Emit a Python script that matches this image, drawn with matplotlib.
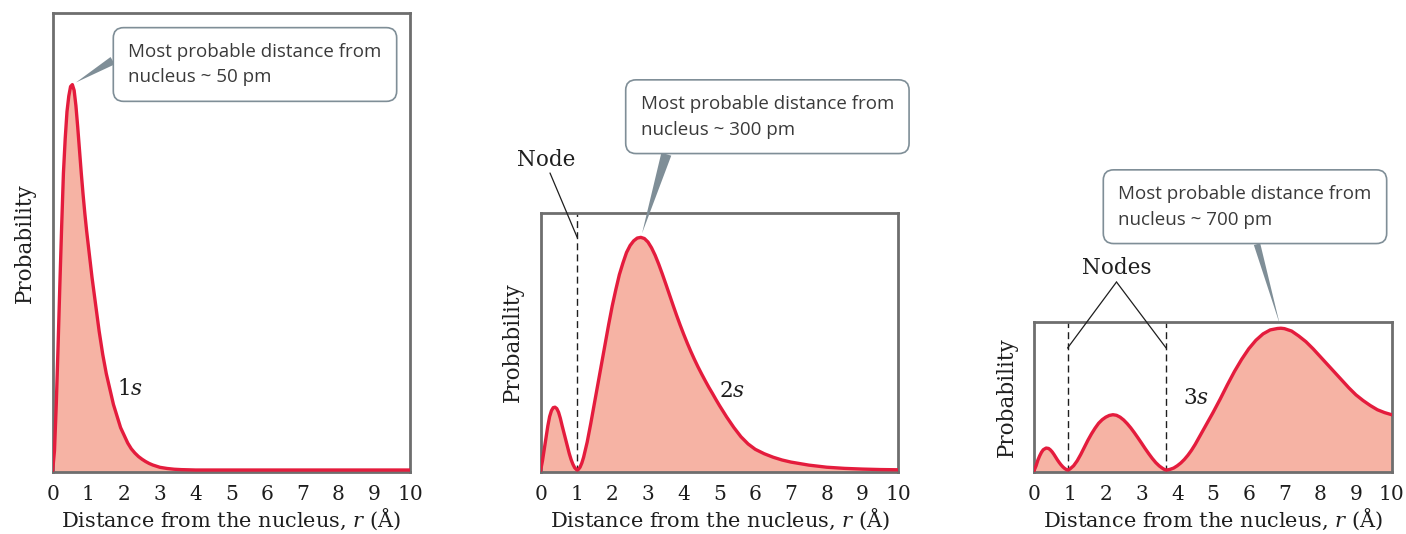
import matplotlib
matplotlib.use("Agg")
from matplotlib import pyplot as plt

plt.rcParams['font.family'] = 'DejaVu Serif'
plt.rcParams['mathtext.fontset'] = 'dejavuserif'

# radial probability (peak of each curve = 1)
r_1s = [0, 0.05, 0.1, 0.15, 0.2, 0.25, 0.3, 0.35, 0.4, 0.45, 0.5, 0.55, 0.6, 0.65, 0.7, 0.75,
        0.8, 0.85, 0.9, 0.95, 1.0, 1.1, 1.2, 1.3, 1.4, 1.5, 1.6, 1.7, 1.8, 1.9, 2.0, 2.1,
        2.2, 2.3, 2.4, 2.5, 2.6, 2.7, 2.8, 2.9, 3.0, 3.2, 3.4, 3.6, 3.8, 4.0, 5, 6, 7, 8, 9, 10]
p_1s = [0, 0.05, 0.17, 0.32, 0.48, 0.63, 0.77, 0.86, 0.93, 0.97, 0.995, 1.0, 0.985, 0.945, 0.89, 0.83,
        0.77, 0.715, 0.665, 0.62, 0.58, 0.50, 0.43, 0.36, 0.30, 0.25, 0.21, 0.17, 0.14, 0.11, 0.09, 0.07,
        0.055, 0.044, 0.035, 0.028, 0.022, 0.017, 0.013, 0.01, 0.007, 0.004, 0.002, 0.001, 0.0005, 0,
        0, 0, 0, 0, 0, 0]

r_2s = [0, 0.05, 0.1, 0.15, 0.2, 0.25, 0.3, 0.35, 0.4, 0.45, 0.5, 0.55, 0.6, 0.65, 0.7, 0.75,
        0.8, 0.85, 0.9, 0.95, 1.0, 1.02, 1.05, 1.1, 1.15, 1.2, 1.3, 1.4, 1.5, 1.6, 1.7, 1.8,
        1.9, 2.0, 2.1, 2.2, 2.3, 2.4, 2.5, 2.6, 2.7, 2.8, 2.9, 3.0, 3.1, 3.2, 3.3, 3.4,
        3.5, 3.6, 3.7, 3.8, 3.9, 4.0, 4.1, 4.2, 4.3, 4.4, 4.5, 4.6, 4.7, 4.8, 4.9, 5.0,
        5.2, 5.4, 5.6, 5.8, 6.0, 6.25, 6.5, 6.75, 7.0, 7.5, 8.0, 8.5, 9.0, 9.5, 10.0]
p_2s = [0, 0.04, 0.09, 0.14, 0.19, 0.23, 0.255, 0.268, 0.27, 0.264, 0.248, 0.222, 0.19, 0.16, 0.13, 0.10,
        0.07, 0.045, 0.025, 0.01, 0.002, 0, 0.002, 0.012, 0.03, 0.055, 0.12, 0.20, 0.285, 0.37, 0.455, 0.54,
        0.625, 0.705, 0.775, 0.84, 0.89, 0.935, 0.965, 0.985, 0.997, 1.0, 0.995, 0.98, 0.955, 0.923, 0.885, 0.843,
        0.799, 0.754, 0.709, 0.665, 0.623, 0.583, 0.545, 0.509, 0.475, 0.443, 0.413, 0.384, 0.356, 0.33, 0.303, 0.277,
        0.228, 0.183, 0.143, 0.112, 0.089, 0.07, 0.055, 0.043, 0.034, 0.021, 0.012, 0.007, 0.004, 0.002, 0.001]

r_3s = [0, 0.05, 0.1, 0.15, 0.2, 0.25, 0.33, 0.4, 0.45, 0.5, 0.55, 0.6, 0.65, 0.7, 0.75, 0.8,
        0.85, 0.9, 0.93, 0.97, 1.0, 1.1, 1.2, 1.3, 1.4, 1.5, 1.6, 1.7, 1.8, 1.9, 2.0, 2.1,
        2.2, 2.3, 2.4, 2.5, 2.6, 2.7, 2.8, 2.9, 3.0, 3.1, 3.2, 3.3, 3.4, 3.5, 3.6, 3.65,
        3.69, 3.75, 3.8, 3.9, 4.0, 4.1, 4.2, 4.3, 4.4, 4.5, 4.6, 4.7, 4.8, 4.9, 5.0, 5.2,
        5.4, 5.6, 5.8, 6.0, 6.2, 6.4, 6.6, 6.8, 6.9, 7.0, 7.2, 7.4, 7.6, 7.8, 8.0, 8.2,
        8.4, 8.6, 8.8, 9.0, 9.2, 9.4, 9.6, 9.8, 10.0]
p_3s = [0, 0.03, 0.07, 0.10, 0.125, 0.143, 0.155, 0.152, 0.142, 0.128, 0.11, 0.09, 0.07, 0.052, 0.036, 0.022,
        0.011, 0.003, 0, 0.003, 0.008, 0.03, 0.065, 0.11, 0.16, 0.21, 0.255, 0.295, 0.33, 0.355, 0.373, 0.385,
        0.39, 0.386, 0.373, 0.353, 0.327, 0.297, 0.263, 0.227, 0.19, 0.152, 0.116, 0.082, 0.052, 0.028, 0.01, 0.003,
        0, 0.002, 0.005, 0.014, 0.03, 0.05, 0.075, 0.105, 0.14, 0.18, 0.225, 0.27, 0.315, 0.36, 0.405, 0.50,
        0.60, 0.695, 0.78, 0.855, 0.915, 0.96, 0.988, 0.998, 1.0, 0.997, 0.98, 0.945, 0.905, 0.855, 0.80, 0.745,
        0.69, 0.635, 0.58, 0.53, 0.49, 0.455, 0.425, 0.405, 0.39]

orbitals = ['1s', '2s', '3s']
peak_r = [0.55, 2.8, 6.9]
nodes = [[], [1.02], [0.93, 3.69]]
callouts = ['Most probable distance from\nnucleus ~ 50 pm',
            'Most probable distance from\nnucleus ~ 300 pm',
            'Most probable distance from\nnucleus ~ 700 pm']
xticks = list(range(11))

RED = '#e41c3d'
FILL = '#f6b3a4'
FRAME = '#6e6e6e'
CALLOUT = '#7f8e97'
INK = '#1e1e1e'

W, H = 1406, 534
fig = plt.figure(figsize=(W / 100, H / 100), dpi=100)

# axes boxes in pixels: left, bottom(from top), right, top(from top)
boxes = [(52.7, 472, 410, 13.3), (540.7, 472, 898.3, 212.7), (1034.3, 472, 1391.7, 321.7)]
tops = [1.185, 1.106, 1.046]
data = [(r_1s, p_1s), (r_2s, p_2s), (r_3s, p_3s)]
axes = []
for (x0, yb, x1, yt), top, (r, p) in zip(boxes, tops, data):
    ax = fig.add_axes([x0 / W, (H - yb) / H, (x1 - x0) / W, (yb - yt) / H])
    ymin = -top * 2.0 / (yb - yt)
    ax.fill_between(r, p, ymin, color=FILL, lw=0, zorder=1)
    ax.plot(r, p, color=RED, lw=2.4, solid_joinstyle='round', zorder=3)
    ax.set_xlim(0, 10)
    ax.set_ylim(ymin, top)
    ax.set_xticks(xticks)
    ax.set_yticks([])
    ax.tick_params(axis='x', length=0, pad=9, labelsize=14.5, labelcolor=INK)
    for sp in ax.spines.values():
        sp.set_color(FRAME)
        sp.set_linewidth(2)
        sp.set_zorder(2)
    ax.set_xlabel('Distance from the nucleus, $r$ (Å)', fontsize=15, labelpad=2, color=INK)
    ax.set_ylabel('Probability', fontsize=15.5, labelpad=12, color=INK)
    axes.append(ax)

# orbital labels
label_pos = [(1.8, 0.21), (4.98, 0.34), (4.16, 0.51)]
for ax, name, (lx, ly) in zip(axes, orbitals, label_pos):
    ax.text(lx, ly, name[0] + '$\\mathit{' + name[1] + '}$', fontsize=15.5,
            ha='left', va='center', color=INK)

# node lines
for ax, nd in zip(axes, nodes):
    for n in nd:
        ax.axvline(n, color=INK, lw=1.0, linestyle=(0, (5, 3)), zorder=2)

axes[1].text(546 / W, 1 - 160 / H, 'Node', transform=fig.transFigure,
             fontsize=15.5, ha='center', va='center', color=INK)
axes[1].annotate('', xy=(nodes[1][0], 1.0), xytext=(550, H - 173), textcoords='figure pixels',
                 arrowprops=dict(arrowstyle='-', color=INK, lw=0.9, shrinkA=0, shrinkB=0),
                 annotation_clip=False)
axes[2].text(1116.7 / W, 1 - 268 / H, 'Nodes', transform=fig.transFigure,
             fontsize=15.5, ha='center', va='center', color=INK)
for n in nodes[2]:
    axes[2].annotate('', xy=(n, 0.86), xytext=(1116.5, H - 282), textcoords='figure pixels',
                     arrowprops=dict(arrowstyle='-', color=INK, lw=0.9, shrinkA=0, shrinkB=0),
                     annotation_clip=False)

# callout boxes
text_pos = [(128.3, 64.5), (640.7, 116.7), (1118.3, 206.7)]
relpos = [(0, 0.8), (0.12, 0), (0.53, 0)]
tails = [0.45, 0.55, 0.35]
for ax, txt, pk, p_all, (tx, ty), rp, tw in zip(axes, callouts, peak_r, data, text_pos, relpos, tails):
    ax.annotate(txt, xy=(pk, max(p_all[1])), xycoords='data',
                xytext=(tx, H - ty), textcoords='figure pixels',
                ha='left', va='center', fontsize=13.5, family='Open Sans',
                color='#3a3a3a', linespacing=1.55, annotation_clip=False, zorder=5,
                bbox=dict(boxstyle='round,pad=0.8,rounding_size=0.55', fc='white',
                          ec=CALLOUT, lw=1.2),
                arrowprops=dict(arrowstyle='wedge,tail_width=%g' % tw, fc=CALLOUT, ec='none',
                                relpos=rp, shrinkA=0, shrinkB=3))

plt.savefig('out.png', dpi=100)
